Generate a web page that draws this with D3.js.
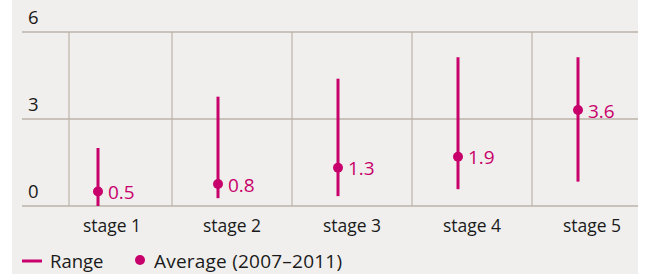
<!DOCTYPE html>
<html>
<head>
<meta charset="utf-8">
<script src="https://cdn.jsdelivr.net/npm/d3@7"></script>
<style>
  body { margin: 0; background: #fff; }
  svg { display: block; font-family: 'Open Sans', sans-serif; }
</style>
</head>
<body>
<svg class="chart" width="645" height="274"></svg>
<script>
// data
const stages = ['stage 1', 'stage 2', 'stage 3', 'stage 4', 'stage 5'];
const rangeLow = [0.0, 0.27, 0.34, 0.58, 0.84];
const rangeHigh = [2.0, 3.77, 4.39, 5.13, 5.13];
// dots as plotted in the picture, labels as printed
const avgPlotted = [0.5, 0.76, 1.32, 1.7, 3.31];
const avgLabels = ['0.5', '0.8', '1.3', '1.9', '3.6'];
const yTicks = [0, 3, 6];

const magenta = '#c8006b';
const gridCol = '#bdb3a9';

const svg = d3.select('svg.chart');

// background panel
svg.append('rect')
  .attr('x', 12).attr('y', 0)
  .attr('width', 626).attr('height', 274)
  .attr('fill', '#f0efed');

const x = d3.scaleBand()
  .domain(stages)
  .range([52, 652]);

const y = d3.scaleLinear()
  .domain([0, 6])
  .range([206, 32]);

const lineOff = -14;

// horizontal grid + tick labels
const gridGrp = svg.append('g').attr('class', 'gridGrp');
gridGrp.selectAll('line.hGrid')
  .data(yTicks)
  .enter()
  .append('line')
  .attr('class', 'hGrid')
  .attr('x1', 22).attr('x2', 638)
  .attr('y1', d => y(d)).attr('y2', d => y(d))
  .style('stroke', gridCol)
  .style('stroke-width', 1.5);

gridGrp.selectAll('text.yLab')
  .data(yTicks)
  .enter()
  .append('text')
  .attr('class', 'yLab')
  .attr('x', 28)
  .attr('y', d => y(d) - 8)
  .text(d => d)
  .style('font-size', '18.5px')
  .style('fill', '#1a1a1a');

// vertical grid: left edge and band boundaries
const vLines = [69].concat(stages.slice(1).map(s => x(s)));
gridGrp.selectAll('line.vGrid')
  .data(vLines)
  .enter()
  .append('line')
  .attr('class', 'vGrid')
  .attr('x1', d => d).attr('x2', d => d)
  .attr('y1', y(6)).attr('y2', y(0))
  .style('stroke', gridCol)
  .style('stroke-width', 1.2);

// category labels
svg.selectAll('text.xLab')
  .data(stages)
  .enter()
  .append('text')
  .attr('class', 'xLab')
  .attr('x', d => x(d) + x.bandwidth() / 2)
  .attr('y', 232)
  .attr('text-anchor', 'middle')
  .text(d => d)
  .style('font-size', '17.5px')
  .style('fill', '#1a1a1a');

// range lines + averages
const stageGrps = svg.selectAll('g.stageGrp')
  .data(stages)
  .enter()
  .append('g')
  .attr('class', 'stageGrp');

const cx = s => x(s) + x.bandwidth() / 2 + lineOff;

stageGrps.append('line')
  .attr('x1', d => cx(d)).attr('x2', d => cx(d))
  .attr('y1', (d, i) => y(rangeLow[i]))
  .attr('y2', (d, i) => y(rangeHigh[i]))
  .style('stroke', magenta)
  .style('stroke-width', 3);

stageGrps.append('circle')
  .attr('cx', d => cx(d))
  .attr('cy', (d, i) => y(avgPlotted[i]))
  .attr('r', 5)
  .style('fill', magenta);

stageGrps.append('text')
  .attr('x', d => cx(d) + 10)
  .attr('y', (d, i) => y(avgPlotted[i]))
  .attr('dy', '0.4em')
  .text((d, i) => avgLabels[i])
  .style('font-size', '19px')
  .style('fill', magenta);

// legend
const legend = svg.append('g').attr('class', 'legendGrp');
legend.append('line')
  .attr('x1', 22).attr('x2', 42)
  .attr('y1', 261).attr('y2', 261)
  .style('stroke', magenta)
  .style('stroke-width', 3);
legend.append('text')
  .attr('x', 50).attr('y', 268)
  .text('Range')
  .style('font-size', '18.5px')
  .style('fill', '#1a1a1a');
legend.append('circle')
  .attr('cx', 140).attr('cy', 260)
  .attr('r', 5)
  .style('fill', magenta);
legend.append('text')
  .attr('x', 154).attr('y', 268)
  .attr('textLength', 188)
  .attr('lengthAdjust', 'spacing')
  .text('Average (2007–2011)')
  .style('font-size', '19px')
  .style('fill', '#1a1a1a');
</script>
</body>
</html>
